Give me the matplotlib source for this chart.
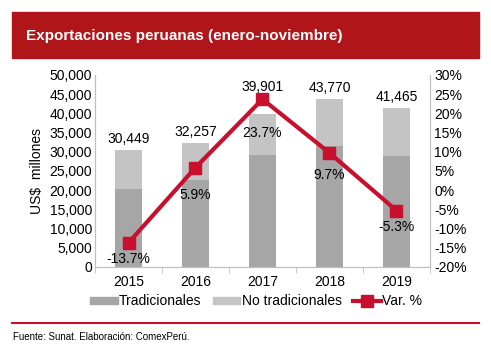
import matplotlib.pyplot as plt
import numpy as np
from matplotlib.patches import Rectangle
from matplotlib.lines import Line2D

plt.rcParams['font.family'] = ['Liberation Sans', 'DejaVu Sans']

years = ['2015', '2016', '2017', '2018', '2019']
totales = [30449, 32257, 39901, 43770, 41465]
tradicionales = [20400, 22700, 29100, 31600, 28800]
no_tradicionales = [t - tr for t, tr in zip(totales, tradicionales)]
var_pct = [-13.7, 5.9, 23.7, 9.7, -5.3]

red = '#B0151A'
line_red = '#C8102E'
dark_gray = '#A6A6A6'
light_gray = '#C4C4C4'

fig = plt.figure(figsize=(4.91, 3.48), dpi=100)

# title bar
fig.patches.append(Rectangle((12/491, 1 - 58/348), 467/491, 46/348,
                             transform=fig.transFigure, color=red, zorder=0))
fig.text(26/491, 1 - 36/348, 'Exportaciones peruanas (enero-noviembre)',
         color='white', fontsize=11, fontweight='bold', va='center')

ax = fig.add_axes([95/491, 1 - 267/348, 335/491, 192/348])
x = np.arange(len(years))
w = 0.4
ax.bar(x, tradicionales, w, color=dark_gray, label='Tradicionales', zorder=2)
ax.bar(x, no_tradicionales, w, bottom=tradicionales, color=light_gray,
       label='No tradicionales', zorder=2)

ax.set_xlim(-0.5, 4.5)
ax.set_ylim(0, 50000)
ax.set_yticks(range(0, 50001, 5000))
ax.set_yticklabels([f'{v:,}' for v in range(0, 50001, 5000)], fontsize=10)
ax.set_xticks(x)
ax.set_xticklabels(years, fontsize=10)
ax.set_xticks(np.arange(-0.5, 5, 1), minor=True)
ax.tick_params(axis='x', which='major', length=0, pad=6)
ax.tick_params(axis='x', which='minor', length=4, color='#BFBFBF')
ax.tick_params(axis='y', length=0, pad=2)
ax.set_ylabel('US$  millones', fontsize=10, labelpad=4)
ax.spines['top'].set_visible(False)
for s in ['left', 'bottom', 'right']:
    ax.spines[s].set_color('#BFBFBF')

ax2 = ax.twinx()
ax2.plot(x, var_pct, color=line_red, lw=3, marker='s', ms=8, zorder=3)
ax2.set_ylim(-20, 30)
ax2.set_yticks(range(-20, 31, 5))
ax2.set_yticklabels([f'{v}%' for v in range(-20, 31, 5)], fontsize=10)
ax2.tick_params(axis='y', length=0, pad=3)
ax2.spines['top'].set_visible(False)
for s in ['left', 'bottom', 'right']:
    ax2.spines[s].set_color('#BFBFBF')

# labels (offsets in points, as placed in the original)
total_off = [3, 3, 14, 3, 3]
var_off = [-12, -20, -24, -16, -12]
for xi, t, off in zip(x, totales, total_off):
    ax2.annotate(f'{t:,}', (xi, t / 1000 - 20), xytext=(0, off),
                 textcoords='offset points', ha='center', va='bottom',
                 fontsize=10, zorder=5)
for xi, v, off in zip(x, var_pct, var_off):
    ax2.annotate(f'{v:.1f}%', (xi, v), xytext=(0, off),
                 textcoords='offset points', ha='center', va='center',
                 fontsize=10, zorder=5)

handles = [Rectangle((0, 0), 1, 1, color=dark_gray),
           Rectangle((0, 0), 1, 1, color=light_gray),
           Line2D([0], [0], color=line_red, lw=3, marker='s', ms=8)]
fig.legend(handles, ['Tradicionales', 'No tradicionales', 'Var. %'],
           loc='center', bbox_to_anchor=(256/491, 1 - 301/348), ncol=3,
           frameon=False, fontsize=10, handlelength=2.0, handleheight=0.4,
           handletextpad=0.1, columnspacing=0.8)

fig.add_artist(Line2D([12/491, 479/491], [1 - 323/348, 1 - 323/348],
                      transform=fig.transFigure, color=line_red, lw=1.5))
fig.text(13/491, 1 - 337/348, 'Fuente: Sunat. Elaboración: ComexPerú.',
         fontsize=7, va='center')

fig.savefig('out.png', dpi=100)
